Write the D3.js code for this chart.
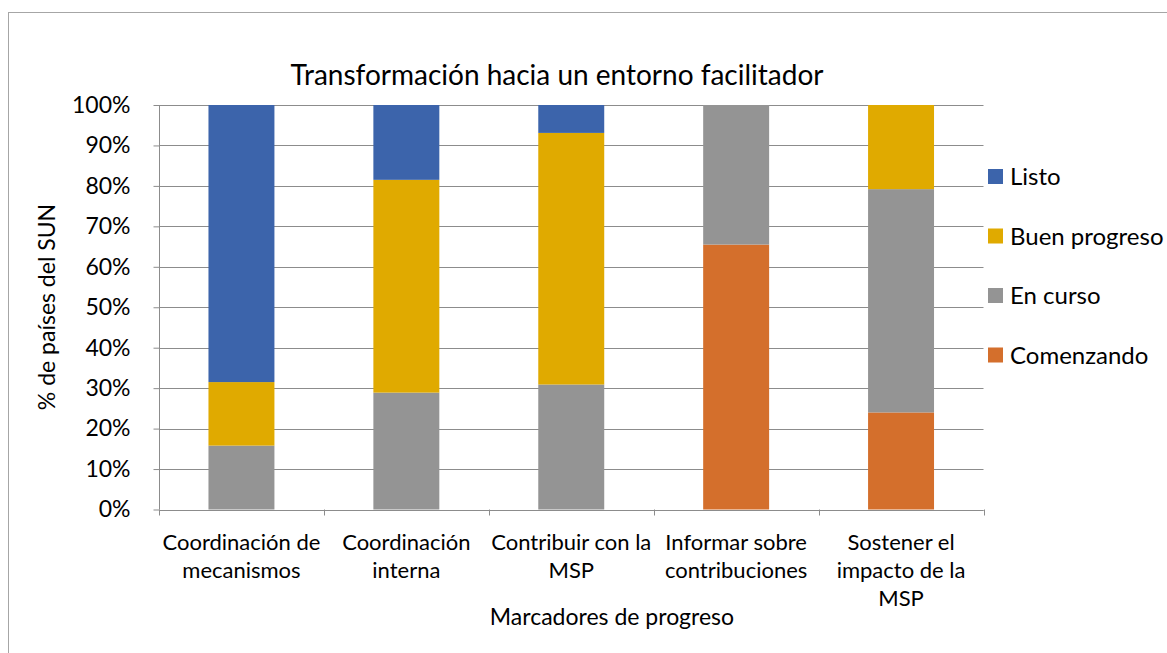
<!doctype html>
<html lang="es">
  <head>
    <meta charset="utf-8">
    <title>Transformación hacia un entorno facilitador</title>
    <style>
      body { margin: 0; background: #fff; }
      text { font-family: Lato, "Open Sans", sans-serif; fill: #000; }
    </style>
  </head>
  <body>
    <div id="chart"></div>

    <script src="https://cdn.jsdelivr.net/npm/d3@7"></script>
    <script>

    // data (percent of SUN countries)
    var categories = [
      ["Coordinación de", "mecanismos"],
      ["Coordinación", "interna"],
      ["Contribuir con la", "MSP"],
      ["Informar sobre", "contribuciones"],
      ["Sostener el", "impacto de la", "MSP"]
    ];
    var seriesNames = ["Comenzando", "En curso", "Buen progreso", "Listo"];
    var comenzando   = [0,    0,    0,    65.5, 24.0];
    var enCurso      = [15.8, 28.9, 30.9, 34.5, 55.2];
    var buenProgreso = [15.7, 52.6, 62.2, 0,    20.8];
    var listo        = [68.5, 18.5, 6.9,  0,    0];
    var yTicks = [0, 10, 20, 30, 40, 50, 60, 70, 80, 90, 100];

    var colors = {
      "Comenzando": "#d46f2c",
      "En curso": "#949494",
      "Buen progreso": "#e0aa00",
      "Listo": "#3c64ab"
    };

    var width = 1167, height = 653;
    var margin = {left: 159, right: 1167 - 983.5, top: 105, bottom: 653 - 509.5};

    var svg = d3.select("#chart")
        .append("svg")
        .attr("width", width)
        .attr("height", height);

    // chart border
    svg.append("rect")
      .attr("x", 8.5)
      .attr("y", 12.5)
      .attr("width", width)
      .attr("height", height)
      .attr("fill", "none")
      .attr("stroke", "#a6a6a6")
      .attr("stroke-width", 1);

    var rows = categories.map(function(c, i){
      return {
        key: i,
        "Comenzando": comenzando[i],
        "En curso": enCurso[i],
        "Buen progreso": buenProgreso[i],
        "Listo": listo[i]
      };
    });

    var x = d3.scaleBand()
      .domain(rows.map(function(d){ return d.key; }))
      .range([margin.left, width - margin.right])
      .paddingInner(0.6)
      .paddingOuter(0.3);

    var y = d3.scaleLinear()
      .domain([0, 100])
      .range([height - margin.bottom, margin.top]);

    // gridlines
    svg.append("g")
      .selectAll("line")
      .data(yTicks)
      .join("line")
      .attr("x1", margin.left)
      .attr("x2", width - margin.right)
      .attr("y1", function(d){ return Math.round(y(d)) + 0.5; })
      .attr("y2", function(d){ return Math.round(y(d)) + 0.5; })
      .attr("stroke", "#8c8c8c")
      .attr("stroke-width", 1);

    // stacked bars
    var stack = d3.stack().keys(seriesNames);
    svg.append("g")
      .selectAll("g")
      .data(stack(rows))
      .join("g")
      .attr("fill", function(d){ return colors[d.key]; })
      .selectAll("rect")
      .data(function(d){ return d; })
      .join("rect")
      .attr("x", function(d){ return x(d.data.key); })
      .attr("width", x.bandwidth())
      .attr("y", function(d){ return y(d[1]); })
      .attr("height", function(d){ return y(d[0]) - y(d[1]); });

    // y axis
    var yAxis = svg.append("g")
      .attr("transform", "translate(" + (margin.left + 0.5) + ",0)")
      .call(d3.axisLeft(y).tickValues(yTicks).tickSize(6).tickPadding(23)
        .tickFormat(function(d){ return d + "%"; }));
    yAxis.selectAll("line, path").attr("stroke", "#8c8c8c");
    yAxis.select(".domain").attr("d", "M0," + y(0) + "V" + y(100));
    yAxis.selectAll("text").style("font-size", "23px").attr("fill", "#000");

    // x axis: tick marks on band boundaries
    var bounds = d3.range(categories.length + 1).map(function(i){
      return margin.left + i * (width - margin.right - margin.left) / categories.length;
    });
    var xAxis = svg.append("g");
    xAxis.append("line")
      .attr("x1", margin.left)
      .attr("x2", width - margin.right)
      .attr("y1", Math.round(y(0)) + 0.5)
      .attr("y2", Math.round(y(0)) + 0.5)
      .attr("stroke", "#8c8c8c");
    xAxis.selectAll(".tk")
      .data(bounds)
      .join("line")
      .attr("class", "tk")
      .attr("x1", function(d){ return Math.round(d) + 0.5; })
      .attr("x2", function(d){ return Math.round(d) + 0.5; })
      .attr("y1", y(0))
      .attr("y2", y(0) + 6)
      .attr("stroke", "#8c8c8c");

    // category labels
    svg.append("g")
      .selectAll("text")
      .data(rows)
      .join("text")
      .attr("text-anchor", "middle")
      .style("font-size", "22px")
      .each(function(d){
        var t = d3.select(this);
        categories[d.key].forEach(function(line, j){
          t.append("tspan")
            .attr("x", x(d.key) + x.bandwidth() / 2)
            .attr("y", 550 + j * 28)
            .text(line);
        });
      });

    // title
    svg.append("text")
      .attr("x", 557)
      .attr("y", 85)
      .attr("text-anchor", "middle")
      .style("font-size", "28px")
      .text("Transformación hacia un entorno facilitador");

    // axis titles
    svg.append("text")
      .attr("x", 612)
      .attr("y", 625)
      .attr("text-anchor", "middle")
      .style("font-size", "23px")
      .text("Marcadores de progreso");

    svg.append("text")
      .attr("transform", "translate(55,307) rotate(-90)")
      .attr("text-anchor", "middle")
      .style("font-size", "23px")
      .text("% de países del SUN");

    // legend
    var legendItems = seriesNames.slice().reverse();
    var legend = svg.append("g")
      .selectAll("g")
      .data(legendItems)
      .join("g")
      .attr("transform", function(d, i){ return "translate(988," + (169 + i * 59.5) + ")"; });
    legend.append("rect")
      .attr("width", 15)
      .attr("height", 15)
      .attr("fill", function(d){ return colors[d]; });
    legend.append("text")
      .attr("x", 22)
      .attr("y", 16)
      .style("font-size", "24px")
      .text(function(d){ return d; });

    </script>
  </body>
</html>
